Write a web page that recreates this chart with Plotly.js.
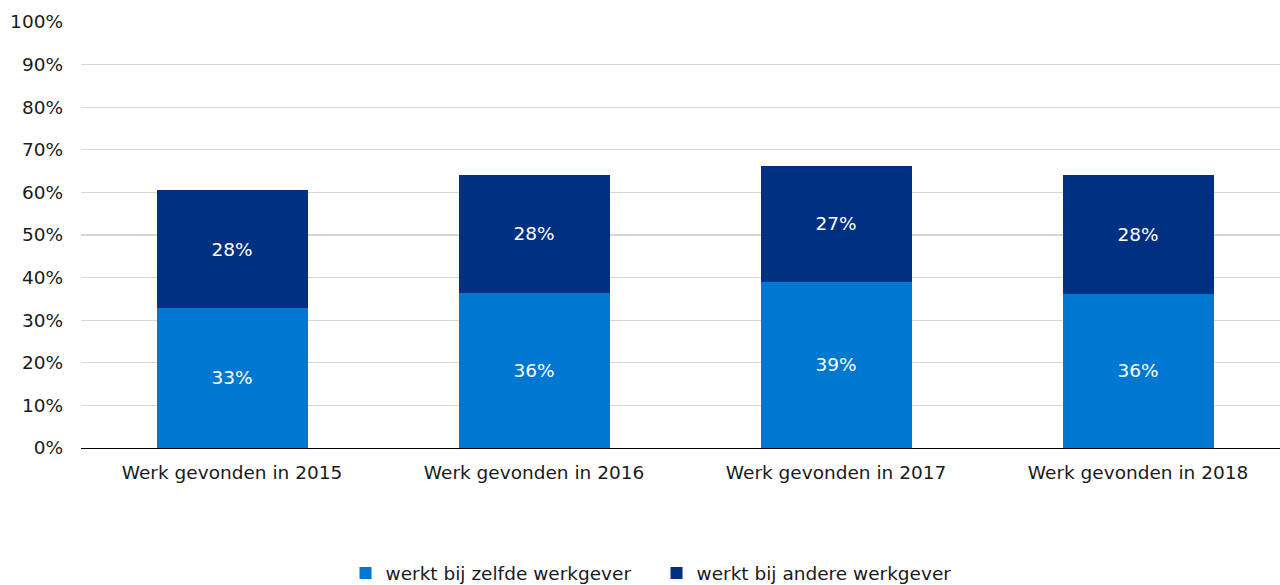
<!DOCTYPE html>
<html>
<head>
<meta charset="utf-8">
<script src="https://cdn.plot.ly/plotly-3.0.1.min.js"></script>
<style>html,body{margin:0;padding:0;background:#fff;}#chart{width:1280px;height:585px;}</style>
</head>
<body>
<div id="chart"></div>
<script>
const categories = ["Werk gevonden in 2015", "Werk gevonden in 2016", "Werk gevonden in 2017", "Werk gevonden in 2018"];
const zelfdeWerkgever = [32.9, 36.4, 39.0, 36.2];
const andereWerkgever = [27.6, 27.8, 27.2, 27.9];
const seriesNames = ["werkt bij zelfde werkgever", "werkt bij andere werkgever"];
const yTickVals = [0, 10, 20, 30, 40, 50, 60, 70, 80, 90, 100];
const yTickText = ["0%", "10%", "20%", "30%", "40%", "50%", "60%", "70%", "80%", "90%", "100%"];

const font = "Verdana, 'DejaVu Sans', sans-serif";
function lbl(arr){ return arr.map(v => Math.round(v) + "%"); }

const traces = [
  {type:"bar", name:seriesNames[0], x:categories, y:zelfdeWerkgever, text:lbl(zelfdeWerkgever),
   textposition:"inside", insidetextanchor:"middle", textangle:0,
   textfont:{color:"#ffffff", size:18.5, family:font},
   marker:{color:"#0078D2"}, hoverinfo:"skip"},
  {type:"bar", name:seriesNames[1], x:categories, y:andereWerkgever, text:lbl(andereWerkgever),
   textposition:"inside", insidetextanchor:"middle", textangle:0,
   textfont:{color:"#ffffff", size:18.5, family:font},
   marker:{color:"#003082"}, hoverinfo:"skip"}
];

const layout = {
  width:1280, height:585,
  margin:{l:81, r:0, t:22, b:137, autoexpand:false},
  barmode:"stack", bargap:0.5,
  paper_bgcolor:"#ffffff", plot_bgcolor:"#ffffff",
  font:{family:font, size:18.5, color:"#1a1a1a"},
  showlegend:true,
  legend:{orientation:"h", traceorder:"normal", x:0.48, xanchor:"center", y:-0.25, yanchor:"top",
          font:{family:font, size:18.5, color:"#1a1a1a"}, itemwidth:30, tracegroupgap:0,
          entrywidth:266},
  xaxis:{type:"category", range:[-0.5, 3.47], showline:true, linecolor:"#000000", linewidth:1.3,
         ticks:"", tickfont:{family:font, size:18.5, color:"#1a1a1a"}, ticklabelstandoff:7},
  yaxis:{range:[0,100], tickvals:yTickVals, ticktext:yTickText, showgrid:true,
         gridcolor:"#d6d6d6", gridwidth:1.3, zeroline:false, showline:false,
         tickfont:{family:font, size:18.5, color:"#1a1a1a"}, ticklabelstandoff:17}
};

Plotly.newPlot("chart", traces, layout, {displayModeBar:false, staticPlot:true});
</script>
</body>
</html>
